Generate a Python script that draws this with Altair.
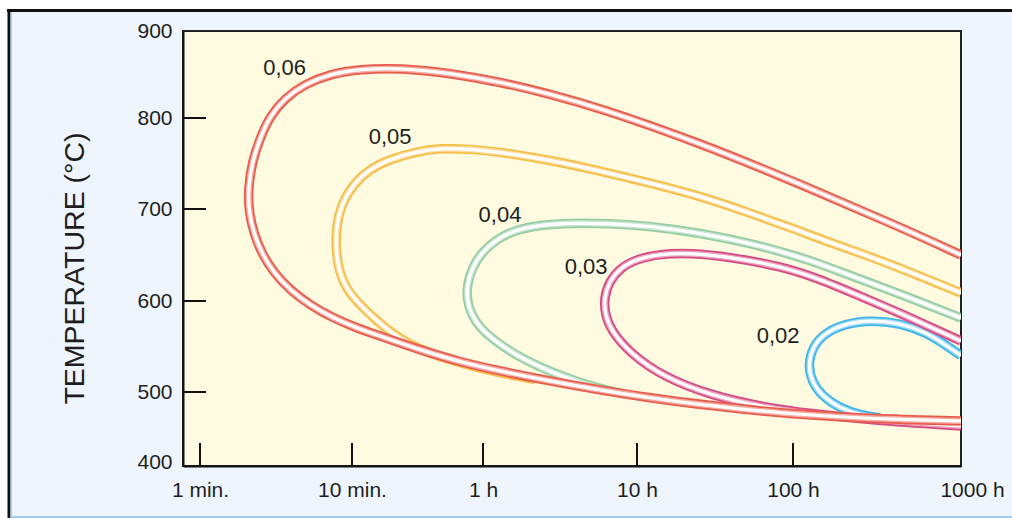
import altair as alt
import pandas as pd

# ---- curve data (time in hours, temperature in degC) ----
red_h = [1000, 433.5, 110, 25.4, 5.75, 2.72, 1.29, 0.637, 0.3214, 0.186,
         0.1194, 0.0818, 0.0604, 0.0481, 0.0414, 0.03665, 0.0345, 0.03503, 0.03778, 0.04265,
         0.05116, 0.06518, 0.0882, 0.125, 0.1785, 0.245, 0.423, 0.730, 1.29, 2.72,
         5.75, 12.1, 30.7, 82.6, 190.5, 433.5, 1000]
red_t = [650, 680.4, 727.5, 772.5, 811.5, 827.6, 841.4, 851.7, 857.5, 856.3,
         850.6, 839.1, 823, 802.3, 778, 751.6, 720.9, 695.7, 672.8, 651.1,
         630.4, 612, 595.6, 581.3, 570.3, 561.5, 546.2, 533, 523, 512.1,
         502.2, 491.9, 481.1, 471.6, 466.2, 462.8, 460.8]

orange_h = [1000, 433.5, 250.6, 144.8, 110, 52.9, 25.4, 12.1, 5.75, 2.72,
            1.29, 0.837, 0.556, 0.3946, 0.2804, 0.2075, 0.1667, 0.1411, 0.1308, 0.1308,
            0.1369, 0.1545, 0.186, 0.2314, 0.2920, 0.3787, 0.556, 0.837, 1.29, 2.18]
orange_t = [608.7, 635.9, 652.2, 667.4, 676.1, 695.7, 714.3, 728.6, 741.8, 753.8,
            762.6, 765.9, 767, 762.6, 754.9, 742.9, 725.3, 704.4, 679.3, 655.4,
            631.5, 612, 595.6, 579.1, 563.7, 550.5, 538.5, 529.1, 520.9, 513.7]

green_h = [1000, 433.5, 250.6, 144.8, 110, 52.9, 25.4, 12.1, 6.68, 3.67,
           2.345, 1.614, 1.233, 0.986, 0.860, 0.8034, 0.8034, 0.8487, 0.9598, 1.197,
           1.74, 3.16, 5.75, 8.36]
green_t = [581.3, 607.6, 623.9, 640.2, 647.8, 663, 673.9, 681.5, 684.2, 684.8,
           682.6, 677.2, 667.4, 653.3, 635.9, 617.4, 601.1, 585.7, 570.3, 556,
           537.4, 517.6, 503.3, 497.3]

magenta_h = [1000, 433.5, 250.6, 144.8, 82.6, 39.4, 21.87, 14.04, 10, 7.755,
             6.58, 6.107, 6.199, 6.88, 9.01, 14.7, 30.7, 64.3, 131.6, 287, 1000]
magenta_t = [556, 586.8, 605.4, 623.9, 638, 647.8, 652.2, 651.1, 645.7, 635.9,
             620.6, 603.3, 584.6, 565.9, 542.9, 516.5, 494.6, 479.7, 470.3, 462.2, 454.1]

blue_h = [1000, 803.5, 628, 433.5, 287, 204, 155, 131.6, 122.7, 129.8,
          148.8, 190.5, 250.6, 329.6]
blue_t = [540, 552, 565, 576, 579, 575, 565, 550.5, 530, 511,
          494.5, 478, 469, 465]

label_text = ["0,06", "0,05", "0,04", "0,03", "0,02"]
label_h = [0.060, 0.2805, 1.29, 4.67, 80.2]
label_t = [857.5, 778.6, 693.5, 637.5, 562]

x_tick_vals = [1 / 60, 1 / 6, 1, 10, 100, 1000]
x_tick_labels = ["1 min.", "10 min.", "1 h", "10 h", "100 h", "1000 h"]
x_inner_ticks = [1 / 60, 1 / 6, 1, 10, 100]
y_tick_vals = [400, 500, 600, 700, 800, 900]
y_inner_ticks = [500, 600, 700, 800]

# ---- layout ----
W, H = 778, 435
FONT = "Liberation Sans"
TXT = "#1e1e1e"

xs = alt.Scale(type="log", domain=[0.0129] + x_tick_vals,
               range=[0, 17, 169, 300, 454, 610, 778], nice=False)
ys = alt.Scale(type="linear", domain=y_tick_vals,
               range=[435, 361, 270, 178, 87, 0], nice=False, zero=False)

# label expression built from the tick lists
expr = "'" + x_tick_labels[-1] + "'"
for i in range(len(x_tick_vals) - 2, -1, -1):
    thr = (x_tick_vals[i] * x_tick_vals[i + 1]) ** 0.5
    expr = f"datum.value < {thr} ? '{x_tick_labels[i]}' : ({expr})"

xaxis = alt.Axis(values=x_tick_vals, labelExpr=expr, ticks=False, grid=False,
                 domainColor="#111", domainWidth=2, labelFont=FONT, labelFontSize=21,
                 labelColor=TXT, labelPadding=13, labelFlush=False, title=None, zindex=1,
                 labelOffset={"condition": {"test": "datum.value > 500", "value": 11}, "value": 0})
yaxis = alt.Axis(values=y_tick_vals, format="d", ticks=False, grid=False,
                 domainColor="#111", domainWidth=2, labelFont=FONT, labelFontSize=21,
                 labelColor=TXT, labelPadding=11, labelFlush=False, zindex=1,
                 labelOffset={"condition": {"test": "datum.value < 450", "value": -4}, "value": 0},
                 title="TEMPERATURE (°C)", titleFont=FONT, titleFontSize=28.5,
                 titleFontWeight="normal", titleColor=TXT, titleAngle=270,
                 titleX=-100, titleY=237, titleBaseline="alphabetic", titleAlign="center")

X = alt.X("h:Q", scale=xs, axis=xaxis)
Y = alt.Y("t:Q", scale=ys, axis=yaxis)


def tube(hs, ts, color):
    df = pd.DataFrame({"h": hs, "t": ts, "i": list(range(len(hs)))})
    base = alt.Chart(df).encode(x=X, y=Y, order="i:Q")
    return [
        base.mark_line(color=color, strokeWidth=9.5, interpolate="basis", clip=True),
        base.mark_line(color="white", strokeWidth=6, opacity=0.5, interpolate="basis", clip=True),
        base.mark_line(color="white", strokeWidth=3.2, interpolate="basis", clip=True),
    ]


one = alt.Data(values=[{"a": 1}])
deco = [
    # white margin strips and the frame of the panel
    alt.Chart(one).mark_rect(color="white").encode(
        x=alt.value(-183), x2=alt.value(830), y=alt.value(-31), y2=alt.value(-21)),
    alt.Chart(one).mark_rect(color="white").encode(
        x=alt.value(-183), x2=alt.value(-175), y=alt.value(-31), y2=alt.value(487)),
    alt.Chart(one).mark_rule(color="#111", strokeWidth=3).encode(
        x=alt.value(-176), x2=alt.value(830), y=alt.value(-20.5)),
    alt.Chart(one).mark_rule(color="#111", strokeWidth=3).encode(
        x=alt.value(-174), y=alt.value(-22), y2=alt.value(487)),
    alt.Chart(one).mark_rule(color="#9ccfee", strokeWidth=1.5).encode(
        x=alt.value(-171.8), y=alt.value(-19), y2=alt.value(487)),
    alt.Chart(one).mark_rule(color="#9ccfee", strokeWidth=2).encode(
        x=alt.value(-172), x2=alt.value(830), y=alt.value(486)),
]

xt = alt.Chart(pd.DataFrame({"h": x_inner_ticks})).mark_rule(color="#111", strokeWidth=2).encode(
    x=X, y=alt.value(H), y2=alt.value(H - 23))
yt = alt.Chart(pd.DataFrame({"t": y_inner_ticks})).mark_rule(color="#111", strokeWidth=2).encode(
    y=Y, x=alt.value(0), x2=alt.value(23))

labels = alt.Chart(pd.DataFrame({"h": label_h, "t": label_t, "lab": label_text})).mark_text(
    font=FONT, fontSize=22, color=TXT, align="center", baseline="middle").encode(
    x=X, y=Y, text="lab:N")

layers = deco + [xt, yt]
layers += tube(blue_h, blue_t, "#3db5e8")
layers += tube(magenta_h, magenta_t, "#d64a84")
layers += tube(green_h, green_t, "#96cda4")
layers += tube(orange_h, orange_t, "#f6bd45")
layers += tube(red_h, red_t, "#e85b4b")
layers += [labels]

chart = alt.layer(*layers).properties(
    width=W, height=H,
    autosize=alt.AutoSizeParams(type="none"),
    padding={"left": 183, "top": 31, "right": 51, "bottom": 52},
    background="#eef5fc",
).configure_view(fill="#fefbe0", stroke="#222", strokeWidth=2)

chart.save("out.html", embed_options={"renderer": "svg", "actions": False})
